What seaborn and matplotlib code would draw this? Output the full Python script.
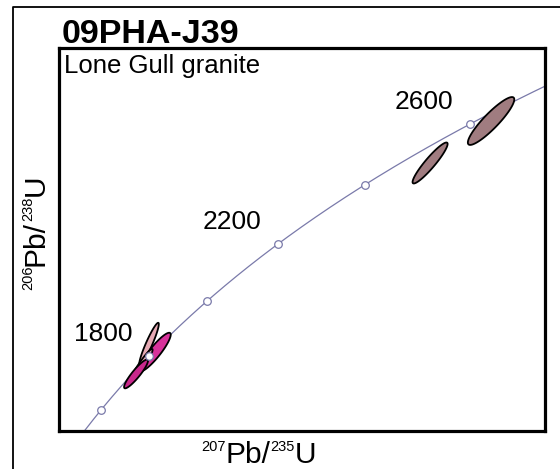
import numpy as np
import pandas as pd
import seaborn as sns
import matplotlib.pyplot as plt
from matplotlib.lines import Line2D

# decay constants (per year)
L238 = 1.55125e-10
L235 = 9.8485e-10

# concordia age marks (Ma) and the ones that get a label
mark_ages = [1600, 1800, 2000, 2200, 2400, 2600]
label_ages = [1800, 2200, 2600]

# analyses: 207Pb/235U, sigma, 206Pb/238U, sigma, error correlation
pb207_u235 = [4.889, 5.021, 4.713, 4.603, 11.065, 12.405]
s207 = [0.215, 0.345, 0.255, 0.262, 0.385, 0.510]
pb206_u238 = [0.3313, 0.3253, 0.3148, 0.3088, 0.4675, 0.4991]
s206 = [0.0160, 0.0145, 0.0128, 0.0108, 0.0154, 0.0180]
rho = [0.935, 0.90, 0.95, 0.91, 0.93, 0.90]
fills = ['#e6aab4', '#d7329a', '#e6aab4', '#c8288c', '#a07c80', '#a07c80']

sns.set_style("white")
plt.rcParams['font.family'] = ['Liberation Sans', 'DejaVu Sans']
plt.rcParams['text.color'] = 'black'

W, H = 560, 469
fig = plt.figure(figsize=(W / 100, H / 100), dpi=100)
ax = fig.add_axes([59 / W, 1 - 431 / H, (545 - 59) / W, (431 - 48) / H])

# concordia curve
t = np.linspace(1400, 2900, 400) * 1e6
curve = pd.DataFrame({'x': np.exp(L235 * t) - 1, 'y': np.exp(L238 * t) - 1})
sns.lineplot(data=curve, x='x', y='y', sort=False, color='#7a7aaa', lw=0.9, ax=ax, zorder=1)

# error ellipses
th = np.linspace(0, 2 * np.pi, 200)
for i in range(len(pb207_u235)):
    c = rho[i] * s207[i] * s206[i]
    cov = np.array([[s207[i] ** 2, c], [c, s206[i] ** 2]])
    vals, vecs = np.linalg.eigh(cov)
    pts = vecs @ np.diag(np.sqrt(vals)) @ np.vstack([np.cos(th), np.sin(th)])
    ax.fill(pb207_u235[i] + pts[0], pb206_u238[i] + pts[1], facecolor=fills[i],
            edgecolor='black', lw=1.3, zorder=2)

# age marks
ta = np.array(mark_ages) * 1e6
marks = pd.DataFrame({'x': np.exp(L235 * ta) - 1, 'y': np.exp(L238 * ta) - 1, 'age': mark_ages})
sns.scatterplot(data=marks, x='x', y='y', s=30, color='white', edgecolor='#7a7aaa',
                linewidth=0.9, ax=ax, zorder=3)
for _, r in marks[marks['age'].isin(label_ages)].iterrows():
    ax.annotate(str(int(r['age'])), (r['x'], r['y']), xytext=(-46, 22), textcoords='offset pixels',
                ha='center', va='center', fontsize=19, color='black')

ax.set_xlim(2.911, 13.59)
ax.set_ylim(0.2659, 0.554)
ax.set_xticks([])
ax.set_yticks([])
ax.set_xlabel('')
ax.set_ylabel('')
for sp in ax.spines.values():
    sp.set_linewidth(2.3)
    sp.set_color('black')

# outer frame (left and top edges only visible)
fig.add_artist(Line2D([13 / W, 13 / W, 1.0], [0, 1 - 7 / H, 1 - 7 / H],
                      transform=fig.transFigure, color='black', lw=1.3))

fig.text(62 / W, 1 - 43 / H, '09PHA-J39', fontsize=24.5, fontweight='bold', va='baseline')
fig.text(64 / W, 1 - 73 / H, 'Lone Gull granite', fontsize=18.5, va='baseline')


def iso_label(x0, y0, parts, rotation=0):
    # place superscript/main pieces one after another along the baseline
    renderer = fig.canvas.get_renderer()
    a = np.deg2rad(rotation)
    d = np.array([np.cos(a), np.sin(a)])
    n = np.array([-np.sin(a), np.cos(a)])
    pos = 0.0
    for s, size, rise in parts:
        p = np.array([x0, y0]) + d * pos + n * rise
        txt = fig.text(p[0] / W, p[1] / H, s, fontsize=size, rotation=rotation,
                       rotation_mode='anchor', ha='left', va='baseline')
        bb = txt.get_window_extent(renderer)
        pos += bb.width if rotation == 0 else bb.height


iso_label(201, H - 463, [('207', 10.5, 12), ('Pb/', 21.5, 0), ('235', 10.5, 12), ('U', 21.5, 0)])
iso_label(44, H - 290, [('206', 10.5, 12), ('Pb/', 21.5, 0), ('238', 10.5, 12), ('U', 21.5, 0)], rotation=90)

fig.savefig('out.png', dpi=100)
